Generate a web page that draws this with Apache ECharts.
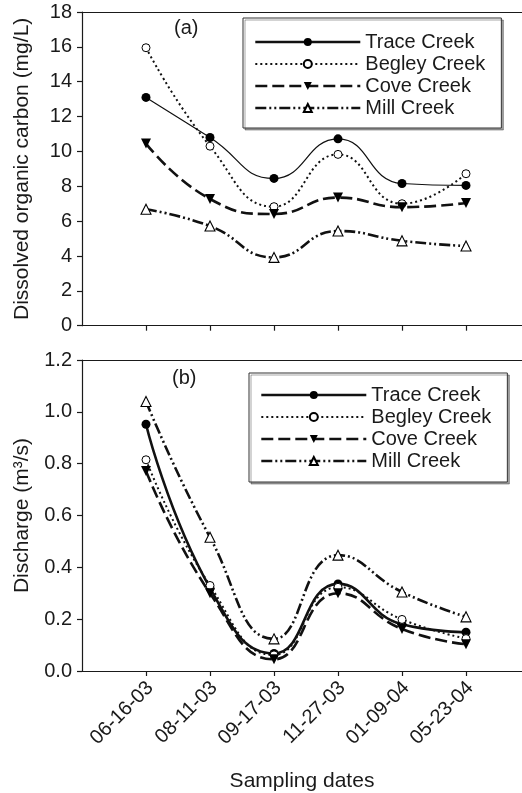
<!DOCTYPE html>
<html>
<head>
<meta charset="utf-8">
<script src="https://cdn.jsdelivr.net/npm/echarts@6/dist/echarts.min.js"></script>
<style>
html,body{margin:0;padding:0;background:#fff;}
#c{width:522px;height:793px;}
</style>
</head>
<body>
<div id="c"></div>
<script>
const dates = ['06-16-03','08-11-03','09-17-03','11-27-03','01-09-04','05-23-04'];
const seriesNames = ['Trace Creek','Begley Creek','Cove Creek','Mill Creek'];
// Panel (a): dissolved organic carbon (mg/L)
const docTrace  = [13.1, 10.8, 8.45, 10.72, 8.16, 8.05];
const docBegley = [15.95, 10.3, 6.83, 9.83, 7.0, 8.72];
const docCove   = [10.45, 7.27, 6.41, 7.35, 6.8, 7.04];
const docMill   = [6.68, 5.72, 3.92, 5.43, 4.87, 4.57];
// Panel (b): discharge (m3/s)
const qTrace  = [0.952, 0.32, 0.068, 0.336, 0.18, 0.15];
const qBegley = [0.815, 0.33, 0.062, 0.323, 0.199, 0.125];
const qCove   = [0.772, 0.30, 0.045, 0.30, 0.162, 0.103];
const qMill   = [1.04, 0.516, 0.124, 0.447, 0.305, 0.209];
const docTicks = [0, 18, 2];
const qTicks = [0, 1.2, 0.2];

const FONT = 'Liberation Sans';
const INK = '#1a1a1a';
const XMAX = 6.875;
const xPos = dates.map((d,i)=>i+1);

const styles = {
  'Trace Creek':  {symbol:'circle', size:9, rot:0, fill:'#000', bw:0, dash:'solid', w:[1.2, 2.6]},
  'Begley Creek': {symbol:'circle', size:8, rot:0, fill:'#fff', bw:1, dash:[2,3], w:[2, 2]},
  'Cove Creek':   {symbol:'triangle', size:10, rot:180, fill:'#000', bw:0, dash:[12,5], w:[2.6, 2.6]},
  'Mill Creek':   {symbol:'triangle', size:10, rot:0, fill:'#fff', bw:1.1, dash:[11,3,2,3,2,3], w:[2.6, 2.6]}
};

function mk(name, vals, idx) {
  const s = styles[name];
  return {
    type:'line', name:name, xAxisIndex:idx, yAxisIndex:idx,
    data: vals.map((v,i)=>[xPos[i], v]),
    smooth: 0.5,
    symbol: s.symbol, symbolSize: s.size, symbolRotate: s.rot,
    showSymbol: true,
    itemStyle: {color: s.fill, borderColor:'#000', borderWidth: s.bw},
    lineStyle: {color:'#111', width: s.w[idx], type: s.dash},
    emphasis: {disabled:true}, animation:false
  };
}

function xAxis(idx, labels) {
  return {
    type:'value', gridIndex:idx, min:0, max:XMAX, position:'bottom',
    axisLine:{show:true, lineStyle:{color:INK, width:1.2}},
    axisTick:{show:true, length:5, customValues:xPos, lineStyle:{color:INK, width:1.2}},
    splitLine:{show:false},
    axisLabel: labels ? {
      show:true, rotate:45, margin:18, fontSize:20, fontFamily:FONT, color:INK,
      customValues:xPos, padding:[0,-6,0,0],
      formatter: v => dates[Math.round(v)-1] || ''
    } : {show:false},
    name: labels ? 'Sampling dates' : '',
    nameLocation:'middle', nameGap:100,
    nameTextStyle:{fontSize:21, fontFamily:FONT, color:INK}
  };
}
function xTop(idx) {
  return {
    type:'value', gridIndex:idx, min:0, max:XMAX, position:'top',
    axisLine:{show:true, lineStyle:{color:INK, width:1.2}},
    axisTick:{show:false}, axisLabel:{show:false}, splitLine:{show:false}
  };
}
function yAxis(idx, t, name, fmt) {
  return {
    type:'value', gridIndex:idx, min:t[0], max:t[1], interval:t[2],
    axisLine:{show:true, lineStyle:{color:INK, width:1.2}},
    axisTick:{show:true, length:5, lineStyle:{color:INK, width:1.2}},
    splitLine:{show:false},
    axisLabel:{fontSize:20, fontFamily:FONT, color:INK, margin:10, formatter: fmt},
    name:name, nameLocation:'middle', nameRotate:90, nameGap:49,
    nameTextStyle:{fontSize:21, fontFamily:FONT, color:INK}
  };
}
function legend(left, top, pad) {
  return {
    show:true, orient:'vertical', left:left, top:top,
    data: seriesNames.map(n => ({name:n, lineStyle:{width: n==='Begley Creek'?2:2.6}})),
    itemWidth:105, itemHeight:10, itemGap:2,
    textStyle:{fontSize:20, fontFamily:FONT, color:INK, lineHeight:20},
    padding: pad,
    borderColor:'#333', borderWidth:1, backgroundColor:'#fff',
    shadowColor:'rgba(0,0,0,0.35)', shadowOffsetX:2, shadowOffsetY:2, shadowBlur:0,
    selectedMode:false
  };
}

const chart = echarts.init(document.getElementById('c'), null, {renderer:'canvas'});
chart.setOption({
  animation:false,
  backgroundColor:'#fff',
  grid:[
    {left:82, top:12, right:0, height:313.7, show:false},
    {left:82, top:360, right:0, height:311.7, show:false}
  ],
  xAxis:[xAxis(0,false), xAxis(1,true), xTop(0), xTop(1)],
  yAxis:[
    yAxis(0, docTicks, 'Dissolved organic carbon (mg/L)', v => String(v)),
    yAxis(1, qTicks, 'Discharge (m³/s)', v => v.toFixed(1))
  ],
  legend:[legend(243, 18, [14,16,10,11]), legend(249, 373, [12,16,11,11])],
  graphic:[
    {type:'text', left:174, top:18, style:{text:'(a)', fontSize:20, fontFamily:FONT, fill:INK}},
    {type:'text', left:172, top:368, style:{text:'(b)', fontSize:20, fontFamily:FONT, fill:INK}}
  ],
  series:[
    mk('Trace Creek', docTrace, 0),
    mk('Begley Creek', docBegley, 0),
    mk('Cove Creek', docCove, 0),
    mk('Mill Creek', docMill, 0),
    mk('Trace Creek', qTrace, 1),
    mk('Begley Creek', qBegley, 1),
    mk('Cove Creek', qCove, 1),
    mk('Mill Creek', qMill, 1)
  ]
});
</script>
</body>
</html>
